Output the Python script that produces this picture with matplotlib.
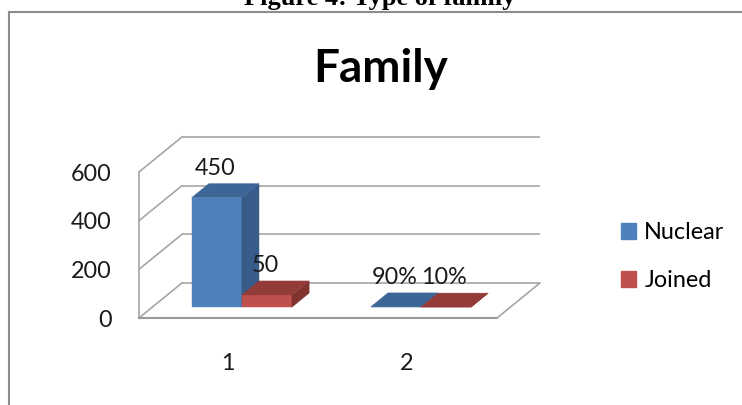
import matplotlib
matplotlib.use("Agg")
import matplotlib.pyplot as plt
from matplotlib.patches import Polygon, Patch
from matplotlib.lines import Line2D

# ---- data ----
categories = ["1", "2"]
series_names = ["Nuclear", "Joined"]
nuclear = [450, 0.9]
joined = [50, 0.1]
labels_nuclear = ["450", "90%"]
labels_joined = ["50", "10%"]
yticks = [0, 200, 400, 600]
title = "Family"
heading = "Figure 4: Type of family"

# ---- styling ----
W, H = 742, 405
FONT = ["Lato", "DejaVu Sans"]
FS = 16.8
plt.rcParams['font.family'] = FONT

fig = plt.figure(figsize=(W / 100, H / 100), dpi=100)
fig.patch.set_facecolor("white")


def fx(px):
    return px / W


def fy(py):
    return 1 - py / H


ax = fig.add_axes([fx(139), fy(318), fx(497) - fx(139), fy(172) - fy(318)])
ax.set_xlim(0.5, 2.5)
ax.set_ylim(0, 600)
ax.axis("off")

DX, DY = 0.24, 144.0   # depth offset of the back wall (data units)
D0, D1 = 0.31, 0.71    # bar depth range as fraction of full depth
BW = 0.28              # bar width (category units)
GRID = "#a6a6a6"

xmin, xmax = 0.5, 2.5
# back wall gridlines + left wall lines
for v in yticks:
    ax.plot([xmin + DX, xmax + DX], [v + DY, v + DY], color=GRID, lw=1.2,
            clip_on=False, zorder=1, solid_capstyle="butt")
    ax.plot([xmin, xmin + DX], [v, v + DY], color=GRID, lw=1.2,
            clip_on=False, zorder=1)
# front vertical edge, floor front and right edges
ax.plot([xmin, xmin], [0, yticks[-1]], color=GRID, lw=1.2, clip_on=False, zorder=1)
ax.plot([xmin, xmax], [0, 0], color="#999999", lw=1.5, clip_on=False, zorder=1)
ax.plot([xmax, xmax + DX], [0, DY], color=GRID, lw=1.2, clip_on=False, zorder=1)

# tick labels
for v in yticks:
    ax.annotate(str(v), xy=(xmin, v), xytext=(-19.5, -1.5), textcoords="offset points",
                ha="right", va="center", fontsize=FS, color="#1a1a1a",
                annotation_clip=False)
for i, c in enumerate(categories):
    ax.annotate(c, xy=(i + 1, 0), xytext=(-0.5, -32.5), textcoords="offset points",
                ha="center", va="center", fontsize=FS, color="#1a1a1a",
                annotation_clip=False)

COLORS = {
    "Nuclear": ("#4f81bd", "#3d6698", "#375c89"),
    "Joined": ("#c0504d", "#943c39", "#80322f"),
}


def bar3d(x0, x1, v, cols, z):
    a, b = D0 * DX, D0 * DY
    c, d = D1 * DX, D1 * DY
    front, top, side = cols
    polys = [
        ([(x0 + a, b), (x1 + a, b), (x1 + a, v + b), (x0 + a, v + b)], front),
        ([(x1 + a, b), (x1 + c, d), (x1 + c, v + d), (x1 + a, v + b)], side),
        ([(x0 + a, v + b), (x1 + a, v + b), (x1 + c, v + d), (x0 + c, v + d)], top),
    ]
    for pts, col in polys:
        ax.add_patch(Polygon(pts, closed=True, facecolor=col, edgecolor=col,
                             lw=0.3, clip_on=False, zorder=z))


for i in range(len(categories)):
    ctr = i + 1
    for j, (name, vals, labs) in enumerate([("Nuclear", nuclear, labels_nuclear),
                                             ("Joined", joined, labels_joined)]):
        x0 = ctr - BW + j * BW
        x1 = x0 + BW
        bar3d(x0, x1, vals[i], COLORS[name], 3 + j)
        xc = (x0 + x1) / 2 + D0 * DX
        ax.annotate(labs[i], xy=(xc, vals[i] + D0 * DY), xytext=(-1, 21),
                    textcoords="offset points", ha="center", va="center",
                    fontsize=FS, color="#1a1a1a", annotation_clip=False, zorder=10)

# legend
handles = [Patch(facecolor=COLORS[n][0], edgecolor=COLORS[n][0]) for n in series_names]
ax.legend(handles, series_names, loc="center left",
          bbox_to_anchor=(fx(621), fy(256.5)), bbox_transform=fig.transFigure,
          frameon=False, handlelength=0.65, handleheight=0.65, handletextpad=0.35,
          labelspacing=1.15, borderpad=0, borderaxespad=0,
          prop={"family": FONT, "size": FS})

# title
fig.text(fx(381), fy(82), title, ha="center", va="baseline", fontsize=33,
         fontweight="bold", color="black")

# cut-off heading above the frame
fig.text(fx(380), fy(4.5), heading, ha="center", va="baseline", fontsize=19,
         fontweight="bold", family=["Liberation Serif", "DejaVu Serif"], color="black")

# outer frame
fig.add_artist(Line2D([fx(8.5), 1.0], [fy(12), fy(12)], transform=fig.transFigure,
                      color="#8c8c8c", lw=1.5))
fig.add_artist(Line2D([fx(8.5), fx(8.5)], [fy(12), 0.0], transform=fig.transFigure,
                      color="#8c8c8c", lw=1.5))

fig.savefig("out.png", dpi=100, facecolor="white")
